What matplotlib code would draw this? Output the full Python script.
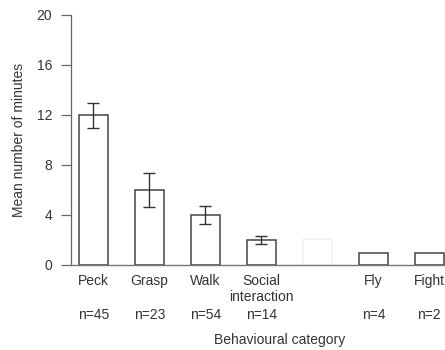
import matplotlib
matplotlib.use("Agg")
import matplotlib.pyplot as plt
from matplotlib.transforms import blended_transform_factory

plt.rcParams['font.family'] = ['Liberation Sans', 'DejaVu Sans']

categories = ["Peck", "Grasp", "Walk", "Social\ninteraction", "", "Fly", "Fight"]
n_labels = ["n=45", "n=23", "n=54", "n=14", "", "n=4", "n=2"]
means = [12, 6, 4, 2, 2.1, 1, 1]
errors = [1.0, 1.35, 0.7, 0.35, 0, 0, 0]
# the fifth bar is a faded-out ghost in the original
ghost = [False, False, False, False, True, False, False]

fig = plt.figure(figsize=(4.45, 3.5), dpi=100)
ax = fig.add_axes([71 / 445, 1 - 265 / 350, 1 - 71 / 445, 250 / 350])

x = list(range(len(categories)))
edge = ['#f2f2f2' if g else '#444444' for g in ghost]
ax.bar(x, means, width=0.52, facecolor='white', edgecolor=edge, linewidth=1.1, zorder=2)
for xi, m, e, g in zip(x, means, errors, ghost):
    if e > 0:
        ax.errorbar(xi, m, yerr=e, fmt='none', ecolor='#333333', elinewidth=1.0,
                    capsize=4.5, capthick=1.0, zorder=3)

ax.set_xlim(-0.40, 6.28)
ax.set_ylim(0, 20)
ax.set_yticks([0, 4, 8, 12, 16, 20])
ax.tick_params(axis='y', direction='out', length=7.5, width=0.9, color='#666666',
               labelsize=10, labelcolor='#333333', pad=6)
ax.set_xticks([])
for s in ['top', 'right']:
    ax.spines[s].set_visible(False)
ax.spines['left'].set_color('#666666')
ax.spines['bottom'].set_color('#777777')
ax.spines['left'].set_linewidth(0.9)
ax.spines['bottom'].set_linewidth(1.0)
ax.set_ylabel("Mean number of minutes", fontsize=10, color='#333333', labelpad=8)

trans = blended_transform_factory(ax.transData, fig.transFigure)
for xi, c, n in zip(x, categories, n_labels):
    ax.text(xi, 1 - 274 / 350, c, transform=trans, ha='center', va='top',
            fontsize=10, color='#333333', linespacing=1.15)
    ax.text(xi, 1 - 315 / 350, n, transform=trans, ha='center', va='center',
            fontsize=10, color='#333333')

fig.text(280 / 445, 1 - 340 / 350, "Behavioural category", ha='center', va='center',
         fontsize=10, color='#333333')

fig.savefig("out.png", dpi=100)
